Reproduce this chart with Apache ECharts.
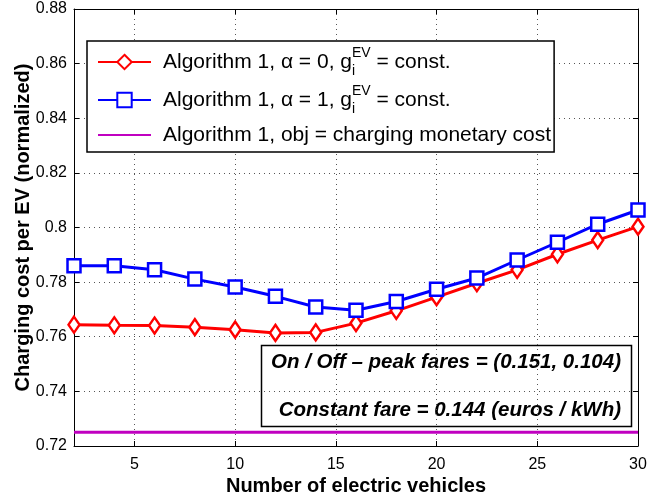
<!DOCTYPE html>
<html>
<head>
<meta charset="utf-8">
<script src="https://cdn.jsdelivr.net/npm/echarts@6/dist/echarts.min.js"></script>
<style>html,body{margin:0;padding:0;background:#fff;}#c{width:647px;height:497px;}</style>
</head>
<body>
<div id="c"></div>
<script>
// ---- data ----
var evCounts = [2, 4, 6, 8, 10, 12, 14, 16, 18, 20, 22, 24, 26, 28, 30];
var alpha0Cost = [0.7644, 0.7642, 0.7641, 0.7635, 0.7626, 0.7614, 0.7616, 0.7650, 0.7695, 0.7745, 0.7796, 0.7845, 0.7902, 0.7954, 0.8003];
var alpha1Cost = [0.7860, 0.7860, 0.7845, 0.7811, 0.7782, 0.7748, 0.7709, 0.7697, 0.7729, 0.7774, 0.7815, 0.7881, 0.7946, 0.8012, 0.8064];
var monetaryX = [2, 30];
var monetaryCost = [0.725, 0.725];
var seriesNames = ['alpha0', 'alpha1', 'monetary'];
var legendTexts = {
  alpha0: 'Algorithm 1, \u03b1 = 0, g{sub|i}{sup|EV} = const.',
  alpha1: 'Algorithm 1, \u03b1 = 1, g{sub|i}{sup|EV} = const.',
  monetary: 'Algorithm 1, obj = charging monetary cost'
};
var noteLine1 = 'On / Off \u2013 peak fares = (0.151, 0.104)';
var noteLine2 = 'Constant fare = 0.144 (euros / kWh)';
var xTitle = 'Number of electric vehicles';
var yTitle = 'Charging cost per EV (normalized)';

function pairs(xs, ys) { return xs.map(function (x, i) { return [x, ys[i]]; }); }

var FONT = '"Liberation Sans", Arial, sans-serif';
var chart = echarts.init(document.getElementById('c'), null, { renderer: 'canvas' });

var gridLine = { show: true, lineStyle: { color: '#555', width: 1, type: [1, 4] } };

var option = {
  backgroundColor: '#fff',
  animation: false,
  grid: { left: 74, right: 9, top: 9, bottom: 51, show: false, containLabel: false, outerBoundsMode: 'none' },
  xAxis: [{
    type: 'value', min: 2, max: 30,
    name: xTitle, nameLocation: 'middle', nameGap: 30, nameMoveOverlap: false,
    nameTextStyle: { fontFamily: FONT, fontWeight: 'bold', fontSize: 20, color: '#000' },
    axisLine: { show: true, onZero: false, lineStyle: { color: '#000', width: 1 } },
    axisTick: { show: true, inside: true, length: 5, lineStyle: { color: '#000' } },
    axisLabel: { fontFamily: FONT, fontSize: 16, color: '#000', margin: 11, showMinLabel: false },
    splitLine: gridLine
  }, {
    type: 'value', min: 2, max: 30, position: 'top',
    axisLine: { show: true, onZero: false, lineStyle: { color: '#000', width: 1 } },
    axisTick: { show: true, inside: true, length: 5, lineStyle: { color: '#000' } },
    axisLabel: { show: false }, splitLine: { show: false }
  }],
  yAxis: [{
    type: 'value', min: 0.72, max: 0.88, interval: 0.02,
    name: yTitle, nameLocation: 'middle', nameGap: 41, nameRotate: 90, nameMoveOverlap: false,
    nameTextStyle: { fontFamily: FONT, fontWeight: 'bold', fontSize: 20, color: '#000' },
    axisLine: { show: true, onZero: false, lineStyle: { color: '#000', width: 1 } },
    axisTick: { show: true, inside: true, length: 5, lineStyle: { color: '#000' } },
    axisLabel: { fontFamily: FONT, fontSize: 16, color: '#000', margin: 7 },
    splitLine: gridLine
  }, {
    type: 'value', min: 0.72, max: 0.88, interval: 0.02, position: 'right',
    axisLine: { show: true, onZero: false, lineStyle: { color: '#000', width: 1 } },
    axisTick: { show: true, inside: true, length: 5, lineStyle: { color: '#000' } },
    axisLabel: { show: false }, splitLine: { show: false }
  }],
  legend: {
    orient: 'vertical', left: 87, top: 41,
    padding: [5, 3, 4, 10], itemGap: 6,
    itemWidth: 53, itemHeight: 18,
    backgroundColor: '#fff', borderColor: '#000', borderWidth: 1.5, borderRadius: 0,
    data: [
      { name: seriesNames[0] },
      { name: seriesNames[1] },
      { name: seriesNames[2], itemStyle: { opacity: 0 } }
    ],
    formatter: function (n) { return legendTexts[n]; },
    textStyle: {
      fontFamily: FONT, fontSize: 21, color: '#000', padding: [0, 0, 0, 7], lineHeight: 26,
      rich: {
        sub: { fontFamily: FONT, fontSize: 14, color: '#000', verticalAlign: 'bottom', lineHeight: 32, width: 0 },
        sup: { fontFamily: FONT, fontSize: 14, color: '#000', verticalAlign: 'top', lineHeight: 32 }
      }
    }
  },
  graphic: [{
    type: 'group', z: 100,
    children: [
      { type: 'rect', shape: { x: 261.5, y: 345.5, width: 370, height: 81 },
        style: { fill: '#fff', stroke: '#000', lineWidth: 1.5 } },
      { type: 'text', x: 621, y: 362,
        style: { text: noteLine1, fill: '#000', font: 'italic bold 20.5px ' + FONT, textAlign: 'right', textVerticalAlign: 'middle' } },
      { type: 'text', x: 621, y: 410,
        style: { text: noteLine2, fill: '#000', font: 'italic bold 20.5px ' + FONT, textAlign: 'right', textVerticalAlign: 'middle' } }
    ]
  }],
  series: [{
    name: 'alpha0', type: 'line', data: pairs(evCounts, alpha0Cost),
    symbol: 'diamond', symbolSize: [11, 16], showAllSymbol: true,
    lineStyle: { color: '#ff0000', width: 3 },
    itemStyle: { color: '#fff', borderColor: '#ff0000', borderWidth: 2.5 },
    z: 3
  }, {
    name: 'alpha1', type: 'line', data: pairs(evCounts, alpha1Cost),
    symbol: 'rect', symbolSize: 13, showAllSymbol: true,
    lineStyle: { color: '#0000ff', width: 3 },
    itemStyle: { color: '#fff', borderColor: '#0000ff', borderWidth: 2.5 },
    z: 4
  }, {
    name: 'monetary', type: 'line', data: pairs(monetaryX, monetaryCost),
    symbol: 'none', showSymbol: false,
    lineStyle: { color: '#c000c0', width: 3 },
    itemStyle: { color: '#c000c0' },
    z: 2
  }]
};
chart.setOption(option);
</script>
</body>
</html>
